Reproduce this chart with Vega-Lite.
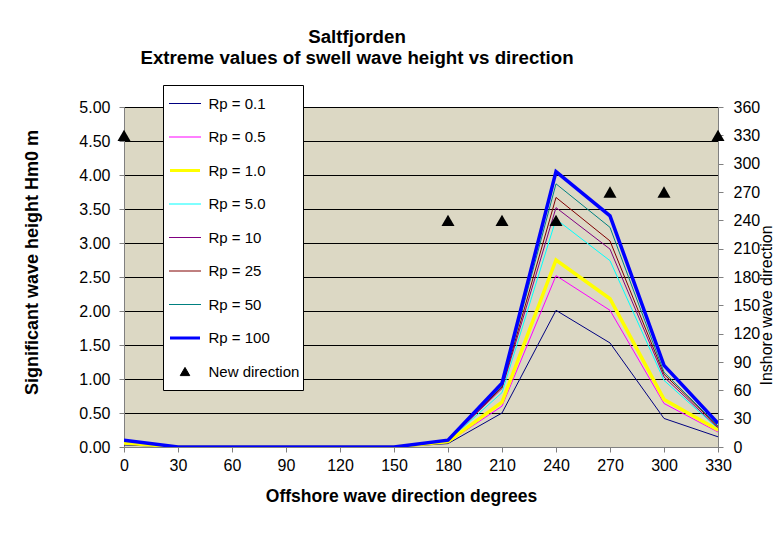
{
  "$schema": "https://vega.github.io/schema/vega-lite/v6.json",
  "width": 594,
  "height": 340,
  "autosize": {"type": "none"},
  "padding": {"left": 124, "top": 107, "right": 59, "bottom": 87},
  "background": "white",
  "title": {
    "text": ["Saltfjorden", "Extreme values of swell wave height vs direction"],
    "font": "Liberation Sans",
    "fontSize": 18.7,
    "fontWeight": "bold",
    "color": "black",
    "anchor": "middle",
    "dx": -64,
    "offset": 17,
    "lineHeight": 21
  },
  "config": {
    "view": {"fill": "#DCD8C4", "stroke": null},
    "axis": {
      "labelFont": "Liberation Sans",
      "labelFontSize": 16,
      "labelColor": "black",
      "titleFont": "Liberation Sans",
      "titleFontSize": 17.5,
      "titleColor": "black",
      "domainColor": "#808080",
      "tickColor": "#808080",
      "tickSize": 5
    }
  },
  "datasets": {
    "waves": [
      {"dir": 0, "series": "Rp = 0.1", "hm0": 0.03}, {"dir": 30, "series": "Rp = 0.1", "hm0": 0}, {"dir": 60, "series": "Rp = 0.1", "hm0": 0}, {"dir": 90, "series": "Rp = 0.1", "hm0": 0}, {"dir": 120, "series": "Rp = 0.1", "hm0": 0}, {"dir": 150, "series": "Rp = 0.1", "hm0": 0}, {"dir": 180, "series": "Rp = 0.1", "hm0": 0.05}, {"dir": 210, "series": "Rp = 0.1", "hm0": 0.5}, {"dir": 240, "series": "Rp = 0.1", "hm0": 2.01}, {"dir": 270, "series": "Rp = 0.1", "hm0": 1.53}, {"dir": 300, "series": "Rp = 0.1", "hm0": 0.42}, {"dir": 330, "series": "Rp = 0.1", "hm0": 0.15},
      {"dir": 0, "series": "Rp = 0.5", "hm0": 0.05}, {"dir": 30, "series": "Rp = 0.5", "hm0": 0}, {"dir": 60, "series": "Rp = 0.5", "hm0": 0}, {"dir": 90, "series": "Rp = 0.5", "hm0": 0}, {"dir": 120, "series": "Rp = 0.5", "hm0": 0}, {"dir": 150, "series": "Rp = 0.5", "hm0": 0}, {"dir": 180, "series": "Rp = 0.5", "hm0": 0.07}, {"dir": 210, "series": "Rp = 0.5", "hm0": 0.6}, {"dir": 240, "series": "Rp = 0.5", "hm0": 2.52}, {"dir": 270, "series": "Rp = 0.5", "hm0": 2.01}, {"dir": 300, "series": "Rp = 0.5", "hm0": 0.64}, {"dir": 330, "series": "Rp = 0.5", "hm0": 0.22},
      {"dir": 0, "series": "Rp = 5.0", "hm0": 0.08}, {"dir": 30, "series": "Rp = 5.0", "hm0": 0}, {"dir": 60, "series": "Rp = 5.0", "hm0": 0}, {"dir": 90, "series": "Rp = 5.0", "hm0": 0}, {"dir": 120, "series": "Rp = 5.0", "hm0": 0}, {"dir": 150, "series": "Rp = 5.0", "hm0": 0}, {"dir": 180, "series": "Rp = 5.0", "hm0": 0.09}, {"dir": 210, "series": "Rp = 5.0", "hm0": 0.8}, {"dir": 240, "series": "Rp = 5.0", "hm0": 3.35}, {"dir": 270, "series": "Rp = 5.0", "hm0": 2.74}, {"dir": 300, "series": "Rp = 5.0", "hm0": 0.98}, {"dir": 330, "series": "Rp = 5.0", "hm0": 0.27},
      {"dir": 0, "series": "Rp = 10", "hm0": 0.08}, {"dir": 30, "series": "Rp = 10", "hm0": 0}, {"dir": 60, "series": "Rp = 10", "hm0": 0}, {"dir": 90, "series": "Rp = 10", "hm0": 0}, {"dir": 120, "series": "Rp = 10", "hm0": 0}, {"dir": 150, "series": "Rp = 10", "hm0": 0}, {"dir": 180, "series": "Rp = 10", "hm0": 0.09}, {"dir": 210, "series": "Rp = 10", "hm0": 0.86}, {"dir": 240, "series": "Rp = 10", "hm0": 3.52}, {"dir": 270, "series": "Rp = 10", "hm0": 2.91}, {"dir": 300, "series": "Rp = 10", "hm0": 1.03}, {"dir": 330, "series": "Rp = 10", "hm0": 0.28},
      {"dir": 0, "series": "Rp = 25", "hm0": 0.09}, {"dir": 30, "series": "Rp = 25", "hm0": 0}, {"dir": 60, "series": "Rp = 25", "hm0": 0}, {"dir": 90, "series": "Rp = 25", "hm0": 0}, {"dir": 120, "series": "Rp = 25", "hm0": 0}, {"dir": 150, "series": "Rp = 25", "hm0": 0}, {"dir": 180, "series": "Rp = 25", "hm0": 0.1}, {"dir": 210, "series": "Rp = 25", "hm0": 0.88}, {"dir": 240, "series": "Rp = 25", "hm0": 3.67}, {"dir": 270, "series": "Rp = 25", "hm0": 3.03}, {"dir": 300, "series": "Rp = 25", "hm0": 1.07}, {"dir": 330, "series": "Rp = 25", "hm0": 0.3},
      {"dir": 0, "series": "Rp = 50", "hm0": 0.09}, {"dir": 30, "series": "Rp = 50", "hm0": 0}, {"dir": 60, "series": "Rp = 50", "hm0": 0}, {"dir": 90, "series": "Rp = 50", "hm0": 0}, {"dir": 120, "series": "Rp = 50", "hm0": 0}, {"dir": 150, "series": "Rp = 50", "hm0": 0}, {"dir": 180, "series": "Rp = 50", "hm0": 0.1}, {"dir": 210, "series": "Rp = 50", "hm0": 0.9}, {"dir": 240, "series": "Rp = 50", "hm0": 3.87}, {"dir": 270, "series": "Rp = 50", "hm0": 3.23}, {"dir": 300, "series": "Rp = 50", "hm0": 1.1}, {"dir": 330, "series": "Rp = 50", "hm0": 0.31},
      {"dir": 0, "series": "Rp = 1.0", "hm0": 0.06}, {"dir": 30, "series": "Rp = 1.0", "hm0": 0}, {"dir": 60, "series": "Rp = 1.0", "hm0": 0}, {"dir": 90, "series": "Rp = 1.0", "hm0": 0}, {"dir": 120, "series": "Rp = 1.0", "hm0": 0}, {"dir": 150, "series": "Rp = 1.0", "hm0": 0}, {"dir": 180, "series": "Rp = 1.0", "hm0": 0.08}, {"dir": 210, "series": "Rp = 1.0", "hm0": 0.66}, {"dir": 240, "series": "Rp = 1.0", "hm0": 2.75}, {"dir": 270, "series": "Rp = 1.0", "hm0": 2.18}, {"dir": 300, "series": "Rp = 1.0", "hm0": 0.7}, {"dir": 330, "series": "Rp = 1.0", "hm0": 0.25},
      {"dir": 0, "series": "Rp = 100", "hm0": 0.1}, {"dir": 30, "series": "Rp = 100", "hm0": 0}, {"dir": 60, "series": "Rp = 100", "hm0": 0}, {"dir": 90, "series": "Rp = 100", "hm0": 0}, {"dir": 120, "series": "Rp = 100", "hm0": 0}, {"dir": 150, "series": "Rp = 100", "hm0": 0}, {"dir": 180, "series": "Rp = 100", "hm0": 0.1}, {"dir": 210, "series": "Rp = 100", "hm0": 0.94}, {"dir": 240, "series": "Rp = 100", "hm0": 4.05}, {"dir": 270, "series": "Rp = 100", "hm0": 3.4}, {"dir": 300, "series": "Rp = 100", "hm0": 1.2}, {"dir": 330, "series": "Rp = 100", "hm0": 0.35}
    ],
    "newdir": [
      {"dir": 0, "inshore": 330},
      {"dir": 180, "inshore": 240},
      {"dir": 210, "inshore": 240},
      {"dir": 240, "inshore": 240},
      {"dir": 270, "inshore": 270},
      {"dir": 300, "inshore": 270},
      {"dir": 330, "inshore": 330}
    ]
  },
  "layer": [
    {
      "data": {"name": "waves"},
      "encoding": {
        "x": {
          "field": "dir", "type": "quantitative",
          "scale": {"domain": [0, 330], "nice": false, "zero": false},
          "axis": {
            "values": [0, 30, 60, 90, 120, 150, 180, 210, 240, 270, 300, 330],
            "grid": false,
            "title": "Offshore wave direction degrees",
            "titleFontWeight": "bold",
            "titleX": 277,
            "titlePadding": 14,
            "labelPadding": 5,
            "labelFlush": false
          }
        },
        "y": {
          "field": "hm0", "type": "quantitative",
          "scale": {"domain": [0, 5], "nice": false},
          "axis": {
            "values": [0, 0.5, 1, 1.5, 2, 2.5, 3, 3.5, 4, 4.5, 5],
            "format": ".2f",
            "grid": true,
            "gridColor": "black",
            "gridOpacity": 1,
            "gridWidth": 1,
            "title": "Significant wave height Hm0 m",
            "titleFontWeight": "bold",
            "titleFontSize": 18,
            "titleY": 155,
            "titlePadding": 37,
            "labelPadding": 9,
            "labelFlush": false
          }
        },
        "color": {
          "field": "series", "type": "nominal",
          "scale": {
            "domain": ["Rp = 0.1", "Rp = 0.5", "Rp = 1.0", "Rp = 5.0", "Rp = 10", "Rp = 25", "Rp = 50", "Rp = 100", "New direction"],
            "range": ["#000080", "#FF00FF", "#FFFF00", "#00FFFF", "#800080", "#800000", "#008080", "#0000FF", "#000000"]
          },
          "legend": {
            "title": null,
            "orient": "none",
            "legendX": 39,
            "legendY": -22,
            "fillColor": "white",
            "strokeColor": "black",
            "padding": 3,
            "columns": 1,
            "symbolType": "stroke",
            "symbolSize": 1024,
            "symbolStrokeWidth": 1,
            "symbolOffset": 2.5,
            "clipHeight": 31,
            "labelFont": "Liberation Sans",
            "labelFontSize": 15,
            "labelColor": "black",
            "labelOffset": 7,
            "rowPadding": 2.5,
            "encode": {
              "symbols": {
                "update": {
                  "shape": {"signal": "(datum.label === 'New direction' ? 'triangle-up' : 'stroke')"},
                  "size": {"signal": "(datum.label === 'New direction' ? 90 : ((datum.label === 'Rp = 1.0' || datum.label === 'Rp = 100') ? 900 : 1024))"},
                  "strokeWidth": {"signal": "((datum.label === 'Rp = 1.0' || datum.label === 'Rp = 100') ? 3 : 1)"},
                  "fill": {"signal": "(datum.label === 'New direction' ? 'black' : 'transparent')"}
                }
              }
            }
          }
        }
      },
      "layer": [
        {
          "transform": [{"filter": "datum.series !== 'Rp = 1.0' && datum.series !== 'Rp = 100'"}],
          "mark": {"type": "line", "clip": true, "strokeWidth": 1}
        },
        {
          "transform": [{"filter": "datum.series === 'Rp = 1.0' || datum.series === 'Rp = 100'"}],
          "mark": {"type": "line", "clip": true, "strokeWidth": 3.5}
        }
      ]
    },
    {
      "data": {"name": "newdir"},
      "mark": {"type": "point", "shape": "triangle-up", "filled": true, "color": "black", "opacity": 1, "size": 170},
      "encoding": {
        "x": {"field": "dir", "type": "quantitative"},
        "y": {
          "field": "inshore", "type": "quantitative",
          "scale": {"domain": [0, 360], "nice": false},
          "axis": {
            "orient": "right",
            "values": [0, 30, 60, 90, 120, 150, 180, 210, 240, 270, 300, 330, 360],
            "grid": false,
            "title": "Inshore wave direction",
            "titleFontWeight": "normal",
            "titleFontSize": 16,
            "titleAngle": 270,
            "titleX": 53,
            "titleY": 198,
            "titleBaseline": "alphabetic",
            "titleAlign": "center",
            "labelPadding": 10,
            "labelFlush": false
          }
        }
      }
    }
  ],
  "resolve": {"scale": {"y": "independent"}}
}
